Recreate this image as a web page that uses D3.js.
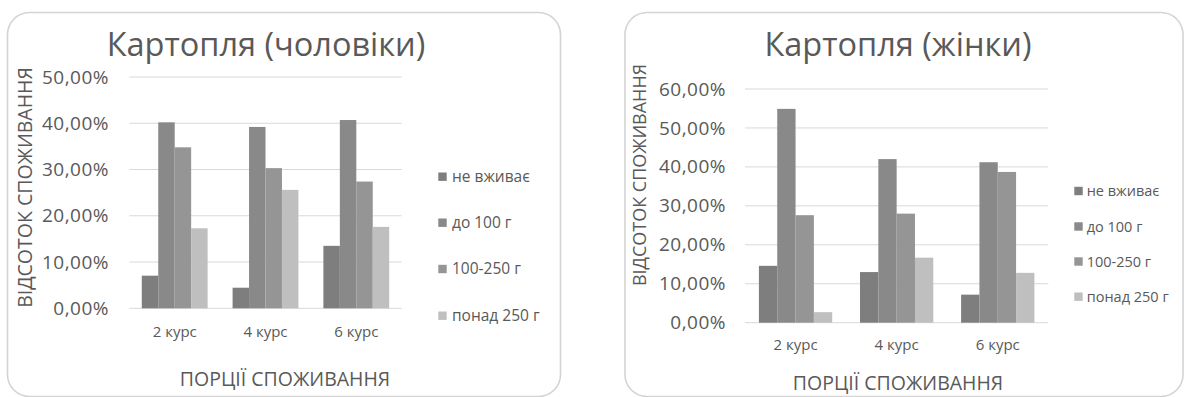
<!DOCTYPE html>
<html>
<head>
<meta charset="utf-8">
<script src="https://cdn.jsdelivr.net/npm/d3@7"></script>
<style>
  html, body { margin: 0; padding: 0; background: #ffffff; }
  svg { display: block; }
  text { font-family: "Open Sans", "Noto Sans", sans-serif; fill: #595959; }
</style>
</head>
<body>
<svg id="chart" width="1185" height="397"></svg>
<script>
// ---- data ----
const categories = ["2 курс", "4 курс", "6 курс"];
const seriesNames = ["не вживає", "до 100 г", "100-250 г", "понад 250 г"];
const seriesColors = ["#7e7e7e", "#898989", "#959595", "#bfbfbf"];

// men (%), one array per series, in category order
const menNone     = [7.05, 4.45, 13.5];
const menTo100    = [40.2, 39.2, 40.7];
const men100to250 = [34.8, 30.3, 27.4];
const menOver250  = [17.3, 25.6, 17.6];
const menTicks    = [0, 10, 20, 30, 40, 50];

// women (%)
const womenNone     = [14.6, 13.0, 7.2];
const womenTo100    = [54.9, 42.0, 41.2];
const women100to250 = [27.6, 28.0, 38.7];
const womenOver250  = [2.7, 16.7, 12.8];
const womenTicks    = [0, 10, 20, 30, 40, 50, 60];

const titleMen = "Картопля (чоловіки)";
const titleWomen = "Картопля (жінки)";
const yTitle = "ВІДСОТОК СПОЖИВАННЯ";
const xTitle = "ПОРЦІЇ СПОЖИВАННЯ";

const svg = d3.select("#chart");
const fmt = v => d3.format(".2f")(v).replace(".", ",") + "%";

function drawChart(opt) {
  const g = svg.append("g");
  const values = opt.values;

  // panel
  g.append("rect")
    .attr("x", opt.panel[0]).attr("y", opt.panel[1])
    .attr("width", opt.panel[2]).attr("height", opt.panel[3])
    .attr("rx", 22).attr("ry", 22)
    .attr("fill", "#ffffff").attr("stroke", "#d4d4d4").attr("stroke-width", 1.6);

  const x = d3.scaleBand().domain(categories).range(opt.xRange)
    .paddingInner(0.275).paddingOuter(0.1375);
  const xs = d3.scaleBand().domain(seriesNames).range([0, x.bandwidth()]).padding(0);
  const y = d3.scaleLinear().domain([0, d3.max(opt.ticks)]).range(opt.yRange);

  // gridlines
  g.append("g").selectAll("line").data(opt.ticks).join("line")
    .attr("x1", opt.xRange[0]).attr("x2", opt.xRange[1])
    .attr("y1", d => y(d)).attr("y2", d => y(d))
    .attr("stroke", "#d9d9d9").attr("stroke-width", 1);

  // y axis labels
  const yAxis = d3.axisLeft(y).tickValues(opt.ticks).tickFormat(fmt).tickSize(0).tickPadding(0);
  const ya = g.append("g").attr("transform", `translate(${opt.yLabelX},0)`).call(yAxis);
  ya.select(".domain").remove();
  ya.selectAll("text").attr("font-size", 19).attr("letter-spacing", 0.5).attr("fill", "#595959")
    .style("font-family", '"Open Sans", sans-serif');

  // bars
  const cats = g.append("g").selectAll("g").data(categories).join("g")
    .attr("transform", d => `translate(${x(d)},0)`);
  cats.selectAll("rect").data((c, ci) => seriesNames.map((s, si) => ({ s, si, v: values[si][ci] })))
    .join("rect")
    .attr("x", d => xs(d.s))
    .attr("width", xs.bandwidth())
    .attr("y", d => y(d.v))
    .attr("height", d => y(0) - y(d.v))
    .attr("fill", d => seriesColors[d.si]);

  // x axis labels
  const xAxis = d3.axisBottom(x).tickSize(0).tickPadding(0);
  const xa = g.append("g").attr("transform", `translate(0,${opt.xLabelY})`).call(xAxis);
  xa.select(".domain").remove();
  xa.selectAll("text").attr("font-size", 15).attr("dy", "0.35em").attr("y", 0)
    .attr("fill", "#595959").style("font-family", '"Open Sans", sans-serif');

  // title
  g.append("text").attr("x", opt.titleX).attr("y", 56)
    .attr("text-anchor", "middle").attr("font-size", 32.5).text(opt.title);

  // y title
  g.append("text")
    .attr("transform", `translate(${opt.yTitlePos[0]},${opt.yTitlePos[1]}) rotate(-90)`)
    .attr("text-anchor", "middle").attr("dy", "0.35em")
    .attr("font-size", opt.yTitleFont).text(yTitle);

  // x title
  g.append("text").attr("x", opt.xTitlePos[0]).attr("y", opt.xTitlePos[1])
    .attr("text-anchor", "middle").attr("dy", "0.35em")
    .attr("font-size", 19.5).text(xTitle);

  // legend
  const lg = g.append("g").selectAll("g").data(seriesNames).join("g")
    .attr("transform", (d, i) => `translate(${opt.legendX},${opt.legendY[i]})`);
  lg.append("rect").attr("x", 0).attr("y", -4.2).attr("width", 8.4).attr("height", 8.4)
    .attr("fill", (d, i) => seriesColors[i]);
  lg.append("text").attr("x", opt.legendTextDx).attr("dy", "0.35em")
    .attr("font-size", opt.legendFont).text(d => d);
}

drawChart({
  values: [menNone, menTo100, men100to250, menOver250],
  ticks: menTicks,
  panel: [7.5, 12.5, 553, 384],
  xRange: [129.3, 401.7],
  yRange: [308.3, 77],
  yLabelX: 109,
  xLabelY: 332,
  title: titleMen,
  titleX: 266,
  yTitlePos: [25, 187.5],
  yTitleFont: 19.5,
  xTitlePos: [285, 379],
  legendX: 438.3,
  legendTextDx: 13.7,
  legendFont: 15.5,
  legendY: [176.7, 222.7, 269, 315.7]
});

drawChart({
  values: [womenNone, womenTo100, women100to250, womenOver250],
  ticks: womenTicks,
  panel: [625, 12.5, 558, 384],
  xRange: [745, 1048.3],
  yRange: [322.7, 89],
  yLabelX: 726,
  xLabelY: 345,
  title: titleWomen,
  titleX: 898,
  yTitlePos: [640, 175],
  yTitleFont: 18,
  xTitlePos: [898, 383],
  legendX: 1074.3,
  legendTextDx: 12.4,
  legendFont: 14.5,
  legendY: [191, 226.5, 261.5, 296.7]
});
</script>
</body>
</html>
